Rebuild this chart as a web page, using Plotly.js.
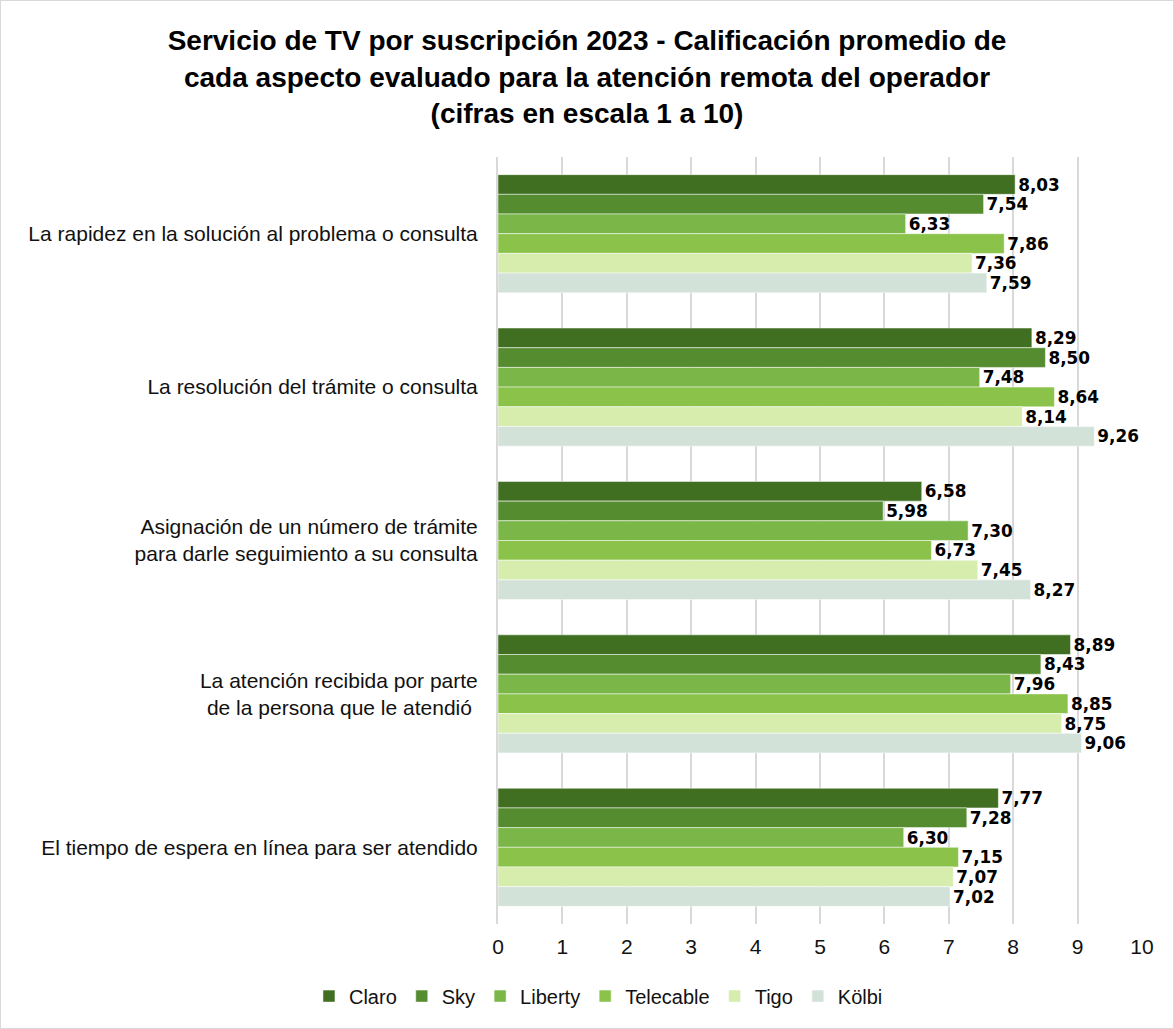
<!DOCTYPE html>
<html>
<head>
<meta charset="utf-8">
<script src="https://cdn.plot.ly/plotly-3.0.1.min.js"></script>
<style>
html,body{margin:0;padding:0;background:#fff;}
#chart{width:1172px;height:1027px;border:1px solid #d9d9d9;}
</style>
</head>
<body>
<div id="chart"></div>
<script>
const categories = [
  "La rapidez en la solución al problema o consulta",
  "La resolución del trámite o consulta",
  "Asignación de un número de trámite<br>para darle seguimiento a su consulta",
  "La atención recibida por parte<br>de la persona que le atendió ",
  "El tiempo de espera en línea para ser atendido"
];
const seriesNames = ["Claro", "Sky", "Liberty", "Telecable", "Tigo", "Kölbi"];
const claro     = [8.03, 8.29, 6.58, 8.89, 7.77];
const sky       = [7.54, 8.50, 5.98, 8.43, 7.28];
const liberty   = [6.33, 7.48, 7.30, 7.96, 6.30];
const telecable = [7.86, 8.64, 6.73, 8.85, 7.15];
const tigo      = [7.36, 8.14, 7.45, 8.75, 7.07];
const kolbi     = [7.59, 9.26, 8.27, 9.06, 7.02];
const xTicks = [0,1,2,3,4,5,6,7,8,9,10];

const seriesValues = [claro, sky, liberty, telecable, tigo, kolbi];
const colors = ["#416F22", "#548C2F", "#7AB648", "#8BC34A", "#D6EDAE", "#D3E2D8"];

const fmt = v => v.toFixed(2).replace(".", ",");

const traces = seriesNames.map((name, i) => ({
  type: "bar",
  orientation: "h",
  name: name,
  y: categories,
  x: seriesValues[i],
  marker: {color: colors[i], line: {color: "#ffffff", width: 0.5}},
  text: seriesValues[i].map(fmt),
  textposition: "outside",
  textfont: {family: "DejaVu Sans, sans-serif", size: 18, color: "#000000", weight: "bold"},
  cliponaxis: false,
  hoverinfo: "x+name"
}));

const layout = {
  width: 1172,
  height: 1027,
  paper_bgcolor: "#ffffff",
  plot_bgcolor: "#ffffff",
  font: {family: "Liberation Sans, Arial, sans-serif", color: "#111111"},
  title: {
    text: "<b>Servicio de TV por suscripción 2023 - Calificación promedio de<br>cada aspecto evaluado para la atención remota del operador<br>(cifras en escala 1 a 10)</b>",
    font: {family: "Liberation Sans, Arial, sans-serif", size: 28, color: "#000000"},
    x: 0.5, xanchor: "center", y: 0.952, yanchor: "top"
  },
  margin: {l: 497, r: 31, t: 156, b: 102},
  barmode: "group",
  bargap: 0.23,
  bargroupgap: 0,
  xaxis: {
    range: [0, 10],
    tickvals: xTicks,
    showgrid: true,
    gridcolor: "#d9d9d9",
    gridwidth: 2,
    zeroline: false,
    showline: false,
    ticks: "",
    tickfont: {size: 21, color: "#111111"},
    ticklabelstandoff: 8
  },
  yaxis: {
    autorange: "reversed",
    showgrid: false,
    zeroline: false,
    showline: true,
    linecolor: "#d9d9d9",
    linewidth: 2,
    ticks: "",
    tickfont: {size: 21, color: "#111111"},
    ticklabelstandoff: 14
  },
  legend: {
    orientation: "h",
    x: 0.156, xanchor: "center",
    y: -0.094, yanchor: "middle",
    font: {size: 20, color: "#111111"},
    traceorder: "normal",
    itemwidth: 30
  },
  showlegend: true
};

Plotly.newPlot("chart", traces, layout, {displayModeBar: false});
</script>
</body>
</html>
